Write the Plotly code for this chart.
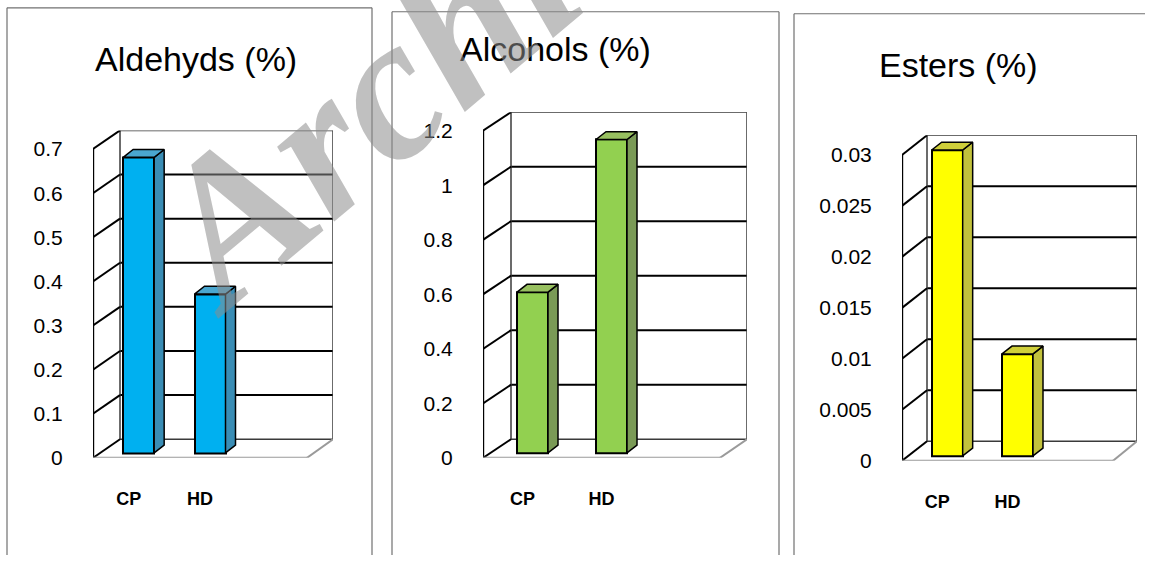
import plotly.graph_objects as go

W, H = 1154, 561

# ---------------- data ----------------
categories = ["CP", "HD"]
titles = ["Aldehyds (%)", "Alcohols (%)", "Esters (%)"]

aldehyds = [0.67, 0.36]
alcohols = [0.59, 1.15]
esters = [0.030, 0.010]

aldehyds_ticks = [0, 0.1, 0.2, 0.3, 0.4, 0.5, 0.6, 0.7]
aldehyds_ticktext = ["0", "0.1", "0.2", "0.3", "0.4", "0.5", "0.6", "0.7"]
alcohols_ticks = [0, 0.2, 0.4, 0.6, 0.8, 1.0, 1.2]
alcohols_ticktext = ["0", "0.2", "0.4", "0.6", "0.8", "1", "1.2"]
esters_ticks = [0, 0.005, 0.01, 0.015, 0.02, 0.025, 0.03]
esters_ticktext = ["0", "0.005", "0.01", "0.015", "0.02", "0.025", "0.03"]

series = [aldehyds, alcohols, esters]
ticks = [aldehyds_ticks, alcohols_ticks, esters_ticks]
ticktexts = [aldehyds_ticktext, alcohols_ticktext, esters_ticktext]

# ---------------- layout / style (pixels) ----------------
panels = [
    dict(front=93, back_left=120, back_right=333, floor_right=307, base=467,
         back_bottom=448, scale=450, frame=(7, 8, 372), title=(196, 60),
         face="#00B0F0", side="#3A8DB5", top="#4AA6CF"),
    dict(front=483, back_left=511, back_right=747, floor_right=720, base=467,
         back_bottom=448, scale=278, frame=(392, 12, 779), title=(555, 50),
         face="#92D050", side="#7A9A56", top="#98C060"),
    dict(front=902, back_left=927, back_right=1137, floor_right=1113, base=470,
         back_bottom=450, scale=10400, frame=(794, 14, 1145), title=(958, 66),
         face="#FFFF00", side="#C2C23C", top="#CFCF3A"),
]
BAR_W = 31       # px front face width
BAR_SHIFT = 10   # px shift of the bar to the right of category centre
BAR_LIFT = 5     # px bar base above the front baseline
SIDE_DX = 10     # px depth of the bar (x)
SIDE_DY = 8      # px depth of the bar (y)
FONT = "Liberation Sans, Arial, sans-serif"

fig = go.Figure()
shapes = []
annotations = []

for k, p in enumerate(panels):
    ax = "" if k == 0 else str(k + 1)
    xref, yref = "x" + ax, "y" + ax
    vals = series[k]
    tv = ticks[k]
    vmax = tv[-1]
    sc = p["scale"]
    s = (p["floor_right"] - p["front"]) / 3.0          # px per category
    back_top = p["back_bottom"] - vmax * sc
    x0 = -0.5
    xr = x0 + (p["back_right"] - p["front"]) / s
    xb = x0 + (p["back_left"] - p["front"]) / s
    xf = x0 + (p["floor_right"] - p["front"]) / s
    dyw = (p["base"] - p["back_bottom"]) / sc
    ytop = (p["base"] - back_top) / sc

    # --- walls (below traces) ---
    wall = dict(type="line", xref=xref, yref=yref, layer="below")
    for v in tv[1:-1]:
        shapes.append(dict(wall, x0=xb, x1=xr, y0=v + dyw, y1=v + dyw,
                           line=dict(color="#000000", width=2)))
    for (a, b, c, d) in [(xb, xr, vmax + dyw, vmax + dyw), (xb, xr, dyw, dyw),
                         (xb, xb, dyw, vmax + dyw), (xr, xr, dyw, vmax + dyw)]:
        shapes.append(dict(wall, x0=a, x1=b, y0=c, y1=d,
                           line=dict(color="#3a3a3a", width=1.5)))
    for v in tv:
        shapes.append(dict(wall, x0=x0, x1=xb, y0=v, y1=v + dyw,
                           line=dict(color="#000000", width=2)))
    shapes.append(dict(wall, x0=x0, x1=x0, y0=0, y1=vmax,
                       line=dict(color="#000000", width=2.4)))
    shapes.append(dict(wall, x0=x0, x1=xf, y0=0, y1=0,
                       line=dict(color="#9a9a9a", width=2)))
    shapes.append(dict(wall, x0=xf, x1=xr, y0=0, y1=dyw,
                       line=dict(color="#9a9a9a", width=2)))

    # --- bars ---
    bw = BAR_W / s
    sh = BAR_SHIFT / s
    b0 = BAR_LIFT / sc
    sdx = SIDE_DX / s
    sdy = SIDE_DY / sc
    xs = [i + sh for i in range(len(categories))]
    fig.add_trace(go.Bar(x=xs, y=vals, base=[b0] * len(vals), width=bw,
                         marker=dict(color=p["face"], line=dict(color="#000000", width=2)),
                         xaxis=xref, yaxis=yref, showlegend=False, hoverinfo="skip"))
    for xc, v in zip(xs, vals):
        xl_, xr_ = xc - bw / 2, xc + bw / 2
        top_v = b0 + v
        fig.add_trace(go.Scatter(
            x=[xr_, xr_ + sdx, xr_ + sdx, xr_, xr_],
            y=[b0, b0 + sdy, top_v + sdy, top_v, b0],
            mode="lines", fill="toself", fillcolor=p["side"],
            line=dict(color="#000000", width=1.5),
            xaxis=xref, yaxis=yref, showlegend=False, hoverinfo="skip"))
        fig.add_trace(go.Scatter(
            x=[xl_, xl_ + sdx, xr_ + sdx, xr_, xl_],
            y=[top_v, top_v + sdy, top_v + sdy, top_v, top_v],
            mode="lines", fill="toself", fillcolor=p["top"],
            line=dict(color="#000000", width=1.5),
            xaxis=xref, yaxis=yref, showlegend=False, hoverinfo="skip"))

    # --- axes ---
    fig.update_layout(**{
        "xaxis" + ax: dict(domain=[p["front"] / W, p["back_right"] / W],
                           range=[x0, xr], anchor="y" + ax,
                           showgrid=False, zeroline=False, showline=False,
                           tickvals=list(range(len(categories))), ticktext=categories,
                           ticks="outside", ticklen=25, tickcolor="rgba(0,0,0,0)",
                           tickfont=dict(family=FONT, size=18, color="#000000", weight="bold"),
                           fixedrange=True),
        "yaxis" + ax: dict(domain=[1 - p["base"] / H, 1 - back_top / H],
                           range=[0, ytop], anchor="x" + ax,
                           showgrid=False, zeroline=False, showline=False,
                           tickvals=tv, ticktext=ticktexts[k],
                           ticks="outside", ticklen=25, tickcolor="rgba(0,0,0,0)",
                           tickfont=dict(family=FONT, size=21, color="#000000"),
                           fixedrange=True),
    })

    # --- panel frame ---
    fl, ft, fr = p["frame"]
    for (a, b, c, d) in [(fl, fl, ft, H + 5), (fl, fr, ft, ft)] + (
            [(fr, fr, ft, H + 5)] if k < 2 else []):
        shapes.append(dict(type="line", xref="paper", yref="paper",
                           x0=a / W, x1=b / W, y0=1 - c / H, y1=1 - d / H,
                           line=dict(color="#707070", width=1.2)))

    # --- title ---
    tx, ty = p["title"]
    annotations.append(dict(text=titles[k], x=tx / W, y=1 - ty / H,
                            xref="paper", yref="paper", showarrow=False,
                            xanchor="center", yanchor="middle",
                            font=dict(family=FONT, size=34, color="#000000")))

# watermark
annotations.append(dict(text="<b><i>Archive</i></b>", x=430 / W, y=1 - 52 / H,
                        xref="paper", yref="paper", showarrow=False,
                        xanchor="center", yanchor="middle", textangle=-40,
                        font=dict(family="Liberation Serif, Times New Roman, serif",
                                  size=205, color="rgba(140,140,140,0.55)")))

fig.update_layout(width=W, height=H, margin=dict(l=0, r=0, t=0, b=0),
                  paper_bgcolor="#ffffff", plot_bgcolor="rgba(0,0,0,0)",
                  shapes=shapes, annotations=annotations, bargap=0,
                  showlegend=False)

fig.write_html("out.html")
